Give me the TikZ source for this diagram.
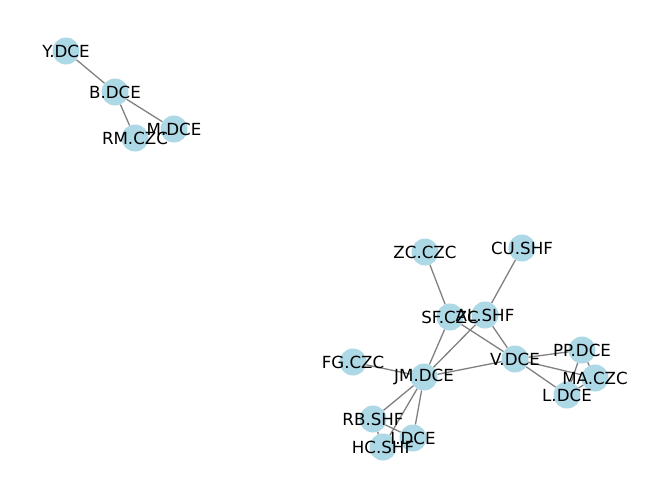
\documentclass[tikz,border=0pt]{standalone}
\usepackage{fontspec}
\setmainfont{DejaVu Sans}
\definecolor{bleuclair}{RGB}{173,216,230}
\begin{document}
\begin{tikzpicture}[x=1pt,y=-1pt]

% définition des styles
\tikzstyle{sommet}=[circle,fill=bleuclair,inner sep=0pt,minimum size=27pt]
\tikzstyle{arete}=[-,draw=gray,line width=1.3pt]
\tikzstyle{etiquette}=[font=\fontsize{16.67}{20}\selectfont,inner sep=0pt]

\useasboundingbox (0,0) rectangle (660,499);

% les sommets
\node [sommet] (Y) at (66,51) {};
\node [sommet] (B) at (115,92) {};
\node [sommet] (RM) at (135,138) {};
\node [sommet] (M) at (174,129) {};
\node [sommet] (ZC) at (425,252) {};
\node [sommet] (CU) at (522,248) {};
\node [sommet] (SF) at (450,317) {};
\node [sommet] (AL) at (485,315) {};
\node [sommet] (V) at (515,359) {};
\node [sommet] (PP) at (582,350) {};
\node [sommet] (MA) at (595,378) {};
\node [sommet] (L) at (567,395) {};
\node [sommet] (FG) at (353,362) {};
\node [sommet] (JM) at (424,377) {};
\node [sommet] (RB) at (373,419) {};
\node [sommet] (HC) at (383,447) {};
\node [sommet] (I) at (413,438) {};

% les arêtes
\draw[arete] (Y) -- (B);
\draw[arete] (B) -- (RM);
\draw[arete] (B) -- (M);
\draw[arete] (ZC) -- (SF);
\draw[arete] (CU) -- (AL);
\draw[arete] (SF) -- (V);
\draw[arete] (AL) -- (V);
\draw[arete] (SF) -- (JM);
\draw[arete] (AL) -- (JM);
\draw[arete] (FG) -- (JM);
\draw[arete] (JM) -- (V);
\draw[arete] (V) -- (PP);
\draw[arete] (V) -- (MA);
\draw[arete] (V) -- (L);
\draw[arete] (PP) -- (MA);
\draw[arete] (PP) -- (L);
\draw[arete] (MA) -- (L);
\draw[arete] (JM) -- (RB);
\draw[arete] (JM) -- (HC);
\draw[arete] (JM) -- (I);
\draw[arete] (RB) -- (I);
\draw[arete] (RB) -- (HC);

% les étiquettes
\node [etiquette] at (Y) {Y.DCE};
\node [etiquette] at (B) {B.DCE};
\node [etiquette] at (RM) {RM.CZC};
\node [etiquette] at (M) {M.DCE};
\node [etiquette] at (ZC) {ZC.CZC};
\node [etiquette] at (CU) {CU.SHF};
\node [etiquette] at (SF) {SF.CZC};
\node [etiquette] at (AL) {AL.SHF};
\node [etiquette] at (V) {V.DCE};
\node [etiquette] at (PP) {PP.DCE};
\node [etiquette] at (MA) {MA.CZC};
\node [etiquette] at (L) {L.DCE};
\node [etiquette] at (FG) {FG.CZC};
\node [etiquette] at (JM) {JM.DCE};
\node [etiquette] at (RB) {RB.SHF};
\node [etiquette] at (HC) {HC.SHF};
\node [etiquette] at (I) {I.DCE};

\end{tikzpicture}
\end{document}
